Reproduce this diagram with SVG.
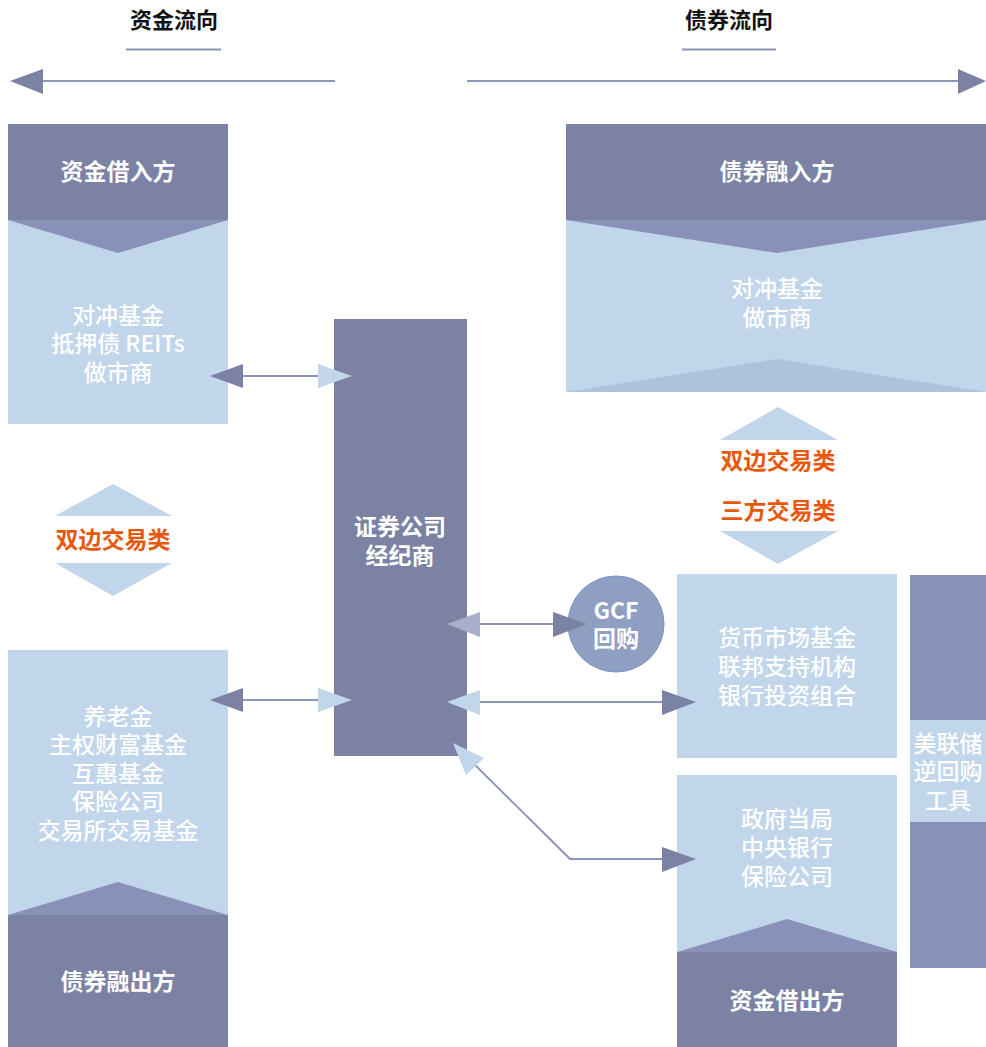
<svg xmlns="http://www.w3.org/2000/svg" width="986" height="1047" viewBox="0 0 986 1047">
<defs>
<style>
text{font-family:"Noto Sans CJK SC","Noto Sans",sans-serif;font-size:23px;text-anchor:middle;dominant-baseline:central}
.w{fill:#fff;font-weight:500}
.hd{fill:#fff;font-weight:700}
.tt{fill:#111;font-weight:700;font-size:22px}
.or{fill:#e8580c;font-weight:700}
.dark{fill:#7b82a4}
.chev{fill:#8a91b8}
.light{fill:#c2d6eb}
.ln{stroke:#8c96b8;stroke-width:2;fill:none}
</style>
</defs>
<rect width="986" height="1047" fill="#fff"/>
<g id="legend">
<text class="tt" x="174" y="18">资金流向</text>
<line x1="126" y1="49.5" x2="221" y2="49.5" class="ln"/>
<line x1="40" y1="81" x2="335" y2="81" class="ln"/>
<polygon points="10,81 43,69 43,94" class="dark"/>
<text class="tt" x="729" y="18">债券流向</text>
<line x1="682" y1="49.5" x2="776" y2="49.5" class="ln"/>
<line x1="467" y1="81" x2="960" y2="81" class="ln"/>
<polygon points="986,81 958,69 958,94" class="dark"/>
</g>
<g id="fund-borrower">
<rect x="8" y="124" width="220" height="300" class="light"/>
<rect x="8" y="124" width="220" height="96" class="dark"/>
<polygon points="8,220 228,220 118,253" class="chev"/>
<text class="hd" x="118" y="170">资金借入方</text>
<text class="w" x="118" y="314">对冲基金</text>
<text class="w" x="118" y="342">抵押债 REITs</text>
<text class="w" x="118" y="371">做市商</text>
</g>
<g id="bond-borrower">
<rect x="566" y="124" width="420" height="268" class="light"/>
<rect x="566" y="124" width="420" height="96" class="dark"/>
<polygon points="566,220 986,220 777,253" class="chev"/>
<polygon points="566,392 986,392 777,359" fill="#aec3da"/>
<text class="hd" x="777" y="170">债券融入方</text>
<text class="w" x="777" y="287">对冲基金</text>
<text class="w" x="777" y="316">做市商</text>
</g>
<g id="broker">
<rect x="334" y="319" width="133" height="437" class="dark"/>
<text class="hd" x="400" y="525">证券公司</text>
<text class="hd" x="400" y="554">经纪商</text>
</g>
<g id="bilateral-left">
<polygon points="113,484 172,516 55,516" class="light"/>
<text class="or" x="113" y="538">双边交易类</text>
<polygon points="55,563 172,563 113,596" class="light"/>
</g>
<g id="bilateral-right">
<polygon points="778,407 838,440 720,440" class="light"/>
<text class="or" x="778" y="459">双边交易类</text>
<text class="or" x="778" y="509">三方交易类</text>
<polygon points="720,531 838,531 778,564" class="light"/>
</g>
<g id="gcf">
<circle cx="616" cy="624" r="48" fill="#8e9fc2" stroke="#6f93cf" stroke-width="1"/>
<text class="hd" x="616" y="609">GCF</text>
<text class="hd" x="616" y="637">回购</text>
</g>
<g id="money-market">
<rect x="677" y="574" width="220" height="184" class="light"/>
<text class="w" x="787" y="636">货币市场基金</text>
<text class="w" x="787" y="665">联邦支持机构</text>
<text class="w" x="787" y="694">银行投资组合</text>
</g>
<g id="fund-lender">
<rect x="677" y="775" width="220" height="272" class="light"/>
<rect x="677" y="952" width="220" height="95" class="dark"/>
<polygon points="677,952 897,952 787,919" class="chev"/>
<text class="w" x="787" y="817">政府当局</text>
<text class="w" x="787" y="846">中央银行</text>
<text class="w" x="787" y="875">保险公司</text>
<text class="hd" x="787" y="999">资金借出方</text>
</g>
<g id="fed">
<rect x="910" y="575" width="76" height="393" class="chev"/>
<rect x="910" y="720" width="76" height="102" class="light"/>
<text class="w" x="948" y="742">美联储</text>
<text class="w" x="948" y="770">逆回购</text>
<text class="w" x="948" y="799">工具</text>
</g>
<g id="bond-lender">
<rect x="8" y="650" width="220" height="397" class="light"/>
<rect x="8" y="915" width="220" height="132" class="dark"/>
<polygon points="8,915 228,915 118,882" class="chev"/>
<text class="w" x="118" y="715">养老金</text>
<text class="w" x="118" y="743">主权财富基金</text>
<text class="w" x="118" y="772">互惠基金</text>
<text class="w" x="118" y="800">保险公司</text>
<text class="w" x="118" y="829">交易所交易基金</text>
<text class="hd" x="118" y="980">债券融出方</text>
</g>
<g id="connectors">
<line x1="240" y1="376" x2="320" y2="376" class="ln"/>
<polygon points="210,376 243,364 243,388" class="dark"/>
<polygon points="352,376 318,364 318,388" class="light"/>
<line x1="240" y1="700" x2="320" y2="700" class="ln"/>
<polygon points="210,700 243,688 243,712" class="dark"/>
<polygon points="352,700 318,688 318,712" class="light"/>
<line x1="478" y1="624" x2="556" y2="624" class="ln"/>
<polygon points="447,624 480,612 480,637" fill="#a9afc8"/>
<polygon points="587,624 553,612 553,637" class="dark"/>
<line x1="478" y1="702" x2="665" y2="702" class="ln"/>
<polygon points="447,702 480,690 480,715" class="light"/>
<polygon points="696,702 662,690 662,715" class="dark"/>
<polyline points="470,760 570,859 665,859" class="ln"/>
<polygon points="696,859 662,847 662,872" class="dark"/>
<polygon points="453,743 484,758 466,775" class="light"/>
</g>
</svg>
